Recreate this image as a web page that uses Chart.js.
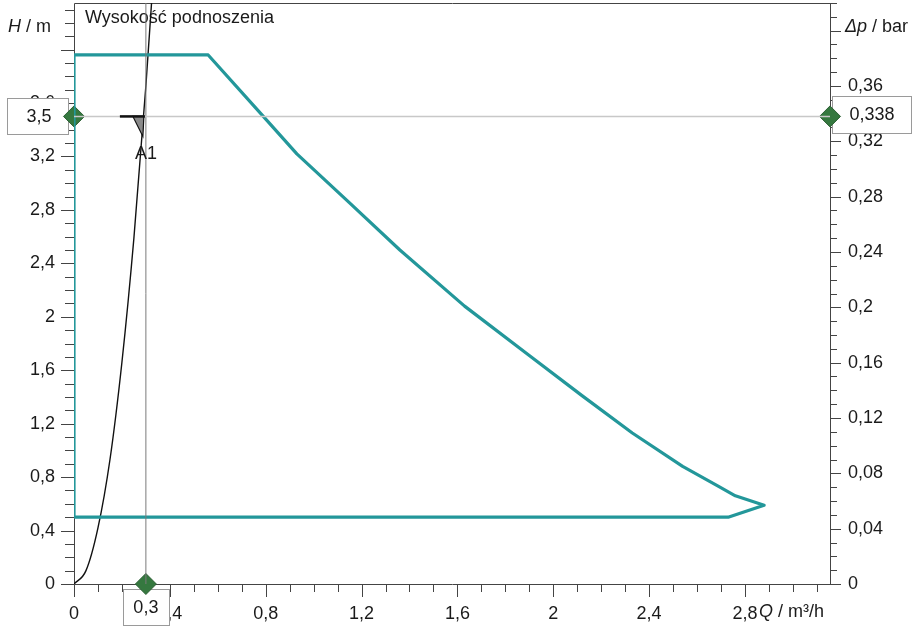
<!DOCTYPE html>
<html>
<head>
<meta charset="utf-8">
<script src="https://cdn.jsdelivr.net/npm/chart.js@4.4.0/dist/chart.umd.min.js"></script>
<style>
  html, body { margin: 0; padding: 0; background: #fff; }
</style>
</head>
<body>
<canvas id="chart" width="913" height="627"></canvas>
<script>
// pump field (Q in m3/h, H in m)
var envQ = [0, 0, 0.56, 0.79, 0.93, 1.14, 1.36, 1.63, 1.90, 2.12, 2.33, 2.54, 2.69, 2.76, 2.88, 2.73, 0];
var envH = [0.5, 3.96, 3.96, 3.50, 3.22, 2.87, 2.50, 2.08, 1.71, 1.41, 1.13, 0.88, 0.73, 0.66, 0.59, 0.5, 0.5];

// system curve
var sysQ = [0, 0.05, 0.1, 0.15, 0.2, 0.25, 0.3, 0.33];
var sysH = [0, 0.10, 0.42, 0.93, 1.66, 2.59, 3.73, 4.52];

// operating point A1
var opQ = 0.3;
var opH = 3.5;
var opP = 0.338;

// axes
var qMax = 3.155, hMax = 4.349, pMax = 0.42;
var qTicks = [0, 0.4, 0.8, 1.2, 1.6, 2, 2.4, 2.8];
var qLabels = ['0', '0,4', '0,8', '1,2', '1,6', '2', '2,4', '2,8'];
var hTicks = [0, 0.4, 0.8, 1.2, 1.6, 2, 2.4, 2.8, 3.2, 3.6, 4];
var hLabels = ['0', '0,4', '0,8', '1,2', '1,6', '2', '2,4', '2,8', '3,2', '3,6', ''];
var pTicks = [0, 0.04, 0.08, 0.12, 0.16, 0.2, 0.24, 0.28, 0.32, 0.36, 0.4];
var pLabels = ['0', '0,04', '0,08', '0,12', '0,16', '0,2', '0,24', '0,28', '0,32', '0,36', ''];

var FONT = "'Liberation Sans', Arial, sans-serif";
var TEXT = '#1a1a1a';
var TEAL = '#23979a';
var GREEN = '#35783f';
var PLOT_TOP = 3;

function pts(xs, ys) {
  return xs.map(function (x, i) { return { x: x, y: ys[i] }; });
}

function findIdx(list, v) {
  for (var i = 0; i < list.length; i++) {
    if (Math.abs(list[i] - v) < 1e-6) return i;
  }
  return -1;
}

function labelFrom(list, labels) {
  return function (v) {
    var i = findIdx(list, v);
    return i < 0 ? '' : labels[i];
  };
}

function fixSize(prop, size) {
  return function (scale) {
    scale[prop] = size;
    scale.paddingTop = 0;
    scale.paddingBottom = 0;
    scale.paddingLeft = 0;
    scale.paddingRight = 0;
  };
}

function box(ctx, x, y, w, h, text, cx) {
  ctx.fillStyle = '#fff';
  ctx.fillRect(x, y, w, h);
  ctx.strokeStyle = '#9a9a9a';
  ctx.lineWidth = 1;
  ctx.strokeRect(x + 0.5, y + 0.5, w, h);
  ctx.fillStyle = TEXT;
  ctx.font = '18px ' + FONT;
  ctx.textAlign = 'center';
  ctx.textBaseline = 'middle';
  ctx.fillText(text, cx, y + h / 2 + 1);
}

var decor = {
  id: 'decor',
  afterLayout: function (chart) {
    // pin the top of the plot area, the y labels would otherwise push it down
    var a = chart.chartArea;
    a.top = PLOT_TOP;
    a.height = a.bottom - a.top;
    ['y', 'y2'].forEach(function (id) {
      var s = chart.scales[id];
      s.top = PLOT_TOP;
      s.height = s.bottom - PLOT_TOP;
      s.configure();
    });
  },
  beforeDatasetsDraw: function (chart) {
    var ctx = chart.ctx, a = chart.chartArea;
    var sx = chart.scales.x, sy = chart.scales.y, sp = chart.scales.y2;
    ctx.save();
    ctx.strokeStyle = '#444';
    ctx.lineWidth = 1;

    // frame
    ctx.beginPath();
    ctx.moveTo(a.left + 0.5, a.bottom + 0.5);
    ctx.lineTo(a.left + 0.5, a.top + 0.5);
    ctx.lineTo(a.right + 0.5, a.top + 0.5);
    ctx.lineTo(a.right + 0.5, a.bottom + 0.5);
    ctx.lineTo(a.left + 0.5, a.bottom + 0.5);
    ctx.stroke();

    // tick marks, major ones longer
    ctx.beginPath();
    sy.ticks.forEach(function (t) {
      var p = Math.round(sy.getPixelForValue(t.value)) + 0.5;
      var len = findIdx(hTicks, t.value) >= 0 ? 13 : 9;
      ctx.moveTo(a.left - len, p);
      ctx.lineTo(a.left, p);
    });
    sp.ticks.forEach(function (t) {
      var p = Math.round(sp.getPixelForValue(t.value)) + 0.5;
      var len = findIdx(pTicks, t.value) >= 0 ? 11 : 7;
      ctx.moveTo(a.right, p);
      ctx.lineTo(a.right + len, p);
    });
    sx.ticks.forEach(function (t) {
      var p = Math.round(sx.getPixelForValue(t.value)) + 0.5;
      var len = findIdx(qTicks, t.value) >= 0 ? 13 : 8;
      ctx.moveTo(p, a.bottom);
      ctx.lineTo(p, a.bottom + len);
    });
    ctx.stroke();

    // axis titles
    ctx.fillStyle = TEXT;
    ctx.textBaseline = 'middle';
    ctx.textAlign = 'left';
    ctx.font = 'italic 18px ' + FONT;
    ctx.fillText('H', 8, 27);
    var w = ctx.measureText('H').width;
    ctx.font = '18px ' + FONT;
    ctx.fillText(' / m', 8 + w, 27);

    ctx.font = 'italic 18px ' + FONT;
    ctx.fillText('\u0394p', 845, 27);
    w = ctx.measureText('\u0394p').width;
    ctx.font = '18px ' + FONT;
    ctx.fillText(' / bar', 845 + w, 27);

    var lx = sx.getPixelForValue(qTicks[qTicks.length - 1]) + 14;
    ctx.font = 'italic 18px ' + FONT;
    ctx.fillText('Q', lx, 612);
    w = ctx.measureText('Q').width;
    ctx.font = '18px ' + FONT;
    ctx.fillText(' / m\u00b3/h', lx + w, 612);

    ctx.fillText('Wysoko\u015b\u0107 podnoszenia', a.left + 11, a.top + 15);

    // value boxes for the operating point
    var py = sy.getPixelForValue(opH);
    var px = sx.getPixelForValue(opQ);
    box(ctx, 7, Math.round(py) - 18, 61, 36, '3,5', 39);
    box(ctx, a.right + 2, Math.round(py) - 20, 79, 37, String(opP).replace('.', ','), a.right + 42);
    box(ctx, Math.round(px) - 23, a.bottom + 5, 46, 36, String(opQ).replace('.', ','), px);
    ctx.restore();
  },
  afterDatasetsDraw: function (chart) {
    var ctx = chart.ctx;
    var px = chart.scales.x.getPixelForValue(opQ);
    var py = chart.scales.y.getPixelForValue(opH);
    ctx.save();
    // A1 level mark
    ctx.beginPath();
    ctx.moveTo(px - 13, py);
    ctx.lineTo(px - 2, py);
    ctx.lineTo(px - 3, py + 20);
    ctx.closePath();
    ctx.fillStyle = '#8a8a8a';
    ctx.fill();
    ctx.strokeStyle = '#111';
    ctx.lineWidth = 1.2;
    ctx.stroke();
    ctx.beginPath();
    ctx.moveTo(px - 26, py);
    ctx.lineTo(px - 1, py);
    ctx.lineWidth = 2.5;
    ctx.stroke();
    ctx.fillStyle = TEXT;
    ctx.font = '18px ' + FONT;
    ctx.textAlign = 'center';
    ctx.textBaseline = 'middle';
    ctx.fillText('A1', px, py + 38);
    ctx.restore();
  }
};

new Chart(document.getElementById('chart'), {
  type: 'scatter',
  data: {
    datasets: [
      {
        data: [{ x: 0, y: opH }, { x: qMax, y: opH }],
        showLine: true, borderColor: '#c8c8c8', borderWidth: 1.5, pointRadius: 0
      },
      {
        data: [{ x: opQ, y: 0 }, { x: opQ, y: hMax }],
        showLine: true, borderColor: '#7a7a7a', borderWidth: 1, pointRadius: 0
      },
      {
        data: pts(envQ, envH),
        showLine: true, borderColor: TEAL, borderWidth: 3.2, pointRadius: 0,
        borderJoinStyle: 'round', tension: 0
      },
      {
        data: pts(sysQ, sysH),
        showLine: true, borderColor: '#111', borderWidth: 1.4, pointRadius: 0,
        tension: 0.4, cubicInterpolationMode: 'monotone'
      },
      {
        data: [{ x: 0, y: opH }, { x: qMax, y: opH }, { x: opQ, y: 0 }],
        pointStyle: 'rectRot', pointRadius: 10.5, backgroundColor: GREEN,
        borderColor: '#2b5f33', borderWidth: 1, clip: false
      }
    ]
  },
  options: {
    responsive: false,
    animation: false,
    devicePixelRatio: 1,
    layout: { padding: { top: PLOT_TOP, left: 0, right: 0, bottom: 0 } },
    plugins: { legend: { display: false }, tooltip: { enabled: false } },
    scales: {
      x: {
        type: 'linear', position: 'bottom', min: 0, max: qMax,
        grid: { display: false, drawTicks: true, tickLength: 13 },
        border: { display: false },
        ticks: {
          stepSize: 0.1, includeBounds: false, autoSkip: false, maxRotation: 0,
          padding: 6, color: TEXT, font: { size: 18, family: FONT },
          callback: labelFrom(qTicks, qLabels)
        },
        afterFit: fixSize('height', 43)
      },
      y: {
        type: 'linear', position: 'left', min: 0, max: hMax,
        grid: { display: false, drawTicks: true, tickLength: 13 },
        border: { display: false },
        ticks: {
          stepSize: 0.1, includeBounds: false, autoSkip: false,
          padding: 6, color: TEXT, font: { size: 18, family: FONT },
          callback: labelFrom(hTicks, hLabels)
        },
        afterFit: fixSize('width', 74)
      },
      y2: {
        type: 'linear', position: 'right', min: 0, max: pMax,
        grid: { display: false, drawTicks: true, tickLength: 11 },
        border: { display: false },
        ticks: {
          stepSize: 0.01, includeBounds: false, autoSkip: false,
          padding: 7, color: TEXT, font: { size: 18, family: FONT },
          callback: labelFrom(pTicks, pLabels)
        },
        afterFit: fixSize('width', 83)
      }
    }
  },
  plugins: [decor]
});
</script>
</body>
</html>
